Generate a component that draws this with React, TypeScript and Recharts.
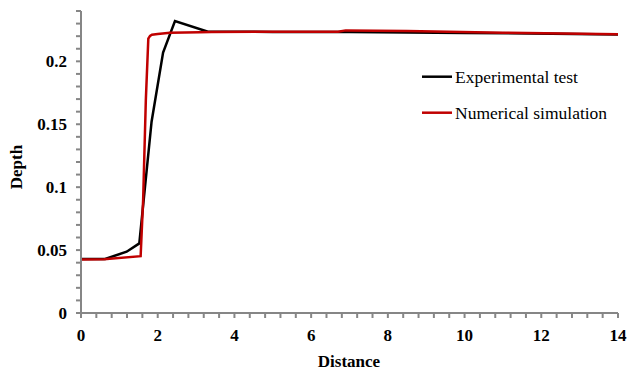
import { LineChart, Line, XAxis, YAxis } from 'recharts';

// experimental test (black)
const expDistance = [0, 0.63, 1.19, 1.52, 1.84, 2.14, 2.45, 3.31, 5, 7, 10, 14];
const expDepth = [0.043, 0.043, 0.0487, 0.0553, 0.152, 0.207, 0.232, 0.2236, 0.2234, 0.2233, 0.2226, 0.2214];

// numerical simulation (red)
const simDistance = [0, 0.6, 1.555, 1.62, 1.69, 1.755, 1.8, 1.85, 2.0, 2.32, 3.1, 3.4, 6.7, 6.9, 8.5, 11, 14];
const simDepth = [0.0426, 0.0428, 0.0452, 0.09, 0.169, 0.218, 0.2202, 0.2212, 0.2218, 0.2228, 0.2232, 0.2234, 0.2236, 0.2246, 0.2241, 0.2228, 0.2215];

const xTicks = [0, 0.4, 0.8, 1.2, 1.6, 2, 2.4, 2.8, 3.2, 3.6, 4, 4.4, 4.8, 5.2, 5.6, 6, 6.4, 6.8, 7.2, 7.6, 8, 8.4, 8.8, 9.2, 9.6, 10, 10.4, 10.8, 11.2, 11.6, 12, 12.4, 12.8, 13.2, 13.6, 14];
const xLabels = [0, 2, 4, 6, 8, 10, 12, 14];
const yTicks = [0, 0.01, 0.02, 0.03, 0.04, 0.05, 0.06, 0.07, 0.08, 0.09, 0.1, 0.11, 0.12, 0.13, 0.14, 0.15, 0.16, 0.17, 0.18, 0.19, 0.2, 0.21, 0.22, 0.23, 0.24];
const yLabels = [0, 0.05, 0.1, 0.15, 0.2];

const expData = expDistance.map((x, i) => ({ x, y: expDepth[i] }));
const simData = simDistance.map((x, i) => ({ x, y: simDepth[i] }));

const AXIS = '#868686';
const FONT = '"Liberation Serif", "Times New Roman", serif';

const isLabel = (list: number[], v: number) => list.some((l) => Math.abs(l - v) < 1e-9);

function XTick(props: any) {
  const { x, y, payload } = props;
  if (!isLabel(xLabels, payload.value)) return <g />;
  return (
    <text x={x} y={y + 23} textAnchor="middle" fontFamily={FONT} fontWeight="bold" fontSize={17} fill="#000">
      {payload.value}
    </text>
  );
}

function YTick(props: any) {
  const { x, y, payload } = props;
  if (!isLabel(yLabels, payload.value)) return <g />;
  return (
    <text x={x - 9} y={y + 6} textAnchor="end" fontFamily={FONT} fontWeight="bold" fontSize={17} fill="#000">
      {String(payload.value)}
    </text>
  );
}

function LegendBox() {
  const rows = [
    { name: 'Experimental test', color: '#000000' },
    { name: 'Numerical simulation', color: '#C00000' },
  ];
  return (
    <svg width={200} height={70} style={{ position: 'absolute', left: 420, top: 60 }}>
      {rows.map((r, i) => (
        <g key={r.name}>
          <line x1={2} x2={32} y1={16.7 + i * 36} y2={16.7 + i * 36} stroke={r.color} strokeWidth={2.5} />
          <text x={35} y={23 + i * 36} fontFamily={FONT} fontSize={17.5} fill="#000">
            {r.name}
          </text>
        </g>
      ))}
    </svg>
  );
}

export default function App() {
  return (
    <div style={{ position: 'absolute', left: 0, top: 0, width: 627, height: 373, background: '#fff' }}>
      <LineChart width={627} height={373} margin={{ top: 11, right: 9, bottom: 0, left: 0 }}>
        <XAxis
          type="number"
          dataKey="x"
          domain={[0, 14]}
          ticks={xTicks}
          interval={0}
          tick={<XTick />}
          tickLine={{ stroke: AXIS, strokeWidth: 2 }}
          tickSize={5}
          tickMargin={0}
          height={60}
          axisLine={{ stroke: AXIS, strokeWidth: 2 }}
          allowDuplicatedCategory={false}
          label={{
            content: () => (
              <text x={349} y={367} textAnchor="middle" fontFamily={FONT} fontWeight="bold" fontSize={17} fill="#000">
                Distance
              </text>
            ),
          }}
        />
        <YAxis
          type="number"
          domain={[0, 0.24]}
          ticks={yTicks}
          interval={0}
          tick={<YTick />}
          tickLine={{ stroke: AXIS, strokeWidth: 2 }}
          tickSize={5}
          tickMargin={0}
          width={81}
          axisLine={{ stroke: AXIS, strokeWidth: 2 }}
          label={{
            content: () => (
              <text
                x={22}
                y={167}
                transform="rotate(-90 22 167)"
                textAnchor="middle"
                fontFamily={FONT}
                fontWeight="bold"
                fontSize={17}
                fill="#000"
              >
                Depth
              </text>
            ),
          }}
        />
        <Line
          data={expData}
          dataKey="y"
          name="Experimental test"
          type="linear"
          stroke="#000000"
          strokeWidth={2.5}
          dot={false}
          isAnimationActive={false}
        />
        <Line
          data={simData}
          dataKey="y"
          name="Numerical simulation"
          type="linear"
          stroke="#C00000"
          strokeWidth={2.5}
          dot={false}
          isAnimationActive={false}
        />
      </LineChart>
      <LegendBox />
    </div>
  );
}
